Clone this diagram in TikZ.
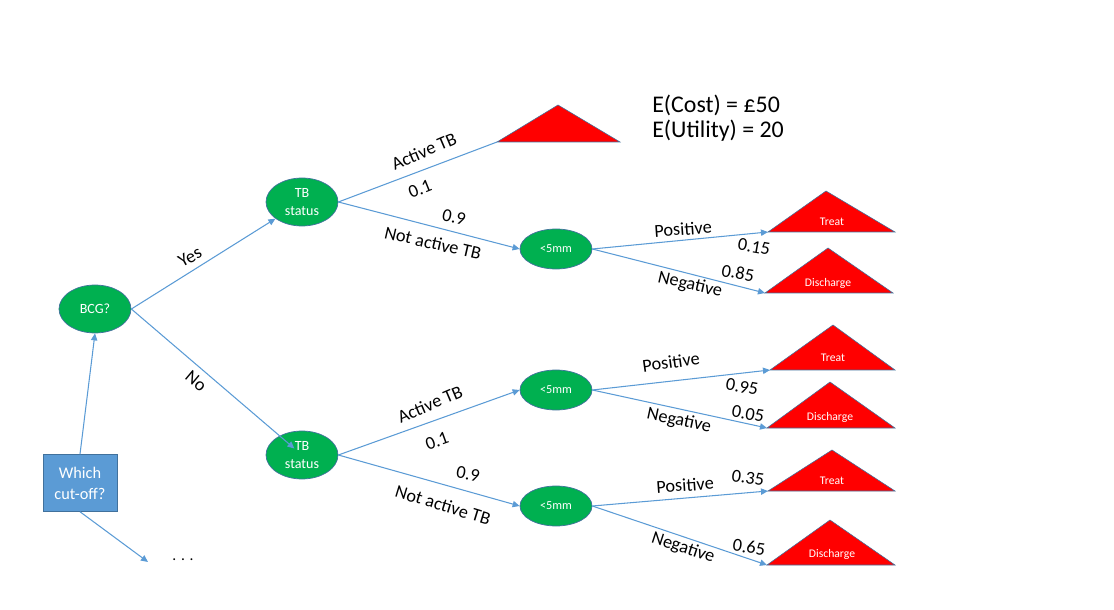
\documentclass[tikz,border=0pt]{standalone}
\usepackage{fontspec}
\setmainfont{Carlito}
\usetikzlibrary{arrows.meta, shapes.geometric}

\definecolor{edgeblue}{HTML}{5B9BD5}
\definecolor{rimblue}{HTML}{41719C}
\definecolor{chancegreen}{HTML}{00B050}

\begin{document}
\begin{tikzpicture}[x=0.025cm, y=-0.025cm,
    chance/.style={ellipse, draw=rimblue, line width=0.5pt, fill=chancegreen, text=white,
        minimum width=1.8cm, minimum height=1.2cm, inner sep=0pt, align=center,
        font=\fontsize{10}{12.5}\selectfont},
    test/.style={chance, minimum height=1cm, font=\fontsize{8.7}{10}\selectfont},
    choice/.style={rectangle, draw=rimblue, line width=0.5pt, fill=edgeblue, text=white,
        minimum width=1.85cm, minimum height=1.42cm, inner sep=0pt, align=center,
        font=\fontsize{11.6}{15}\selectfont},
    outcome/.style={draw=rimblue, line width=0.4pt, fill=red},
    leaf/.style={text=white, inner sep=0pt, font=\fontsize{8.3}{10}\selectfont},
    edge/.style={draw=edgeblue, line width=0.75pt},
    arr/.style={edge, -{Triangle[length=5pt, width=4.5pt]}},
    lbl/.style={inner sep=0pt, font=\fontsize{13}{15}\selectfont}]

    \useasboundingbox (0,0) rectangle (1114,610);

    % Decision and chance nodes
    \node[choice] (which) at (80,483) {Which\\cut-off?};
    \node[chance] (bcg) at (95,309) {BCG?};
    \node[chance] (tb1) at (302,202) {TB\\status};
    \node[chance] (tb2) at (302,455) {TB\\status};
    \node[test] (s1) at (556,249) {<5mm};
    \node[test] (s2) at (556,390) {<5mm};
    \node[test] (s3) at (556,506) {<5mm};

    % Outcome triangles
    \filldraw[outcome] (497,142) coordinate (t0) -- (620,142) -- (558,105) -- cycle;
    \filldraw[outcome] (768,232) coordinate (t1) -- (895,232) -- (826,191) -- cycle;
    \node[leaf] (t1-txt) at (832,222) {Treat};
    \filldraw[outcome] (765,293) coordinate (t2) -- (893,293) -- (828,248) -- cycle;
    \node[leaf] (t2-txt) at (828,283) {Discharge};
    \filldraw[outcome] (770,370) coordinate (t3) -- (895,370) -- (833,325) -- cycle;
    \node[leaf] (t3-txt) at (833,358) {Treat};
    \filldraw[outcome] (767,428) coordinate (t4) -- (895,428) -- (830,382) -- cycle;
    \node[leaf] (t4-txt) at (830,417) {Discharge};
    \filldraw[outcome] (768,491) coordinate (t5) -- (895,491) -- (832,450) -- cycle;
    \node[leaf] (t5-txt) at (832,481) {Treat};
    \filldraw[outcome] (767,565) coordinate (t6) -- (895,565) -- (830,520) -- cycle;
    \node[leaf] (t6-txt) at (832,554) {Discharge};

    % Expected values
    \node[anchor=west, inner sep=0pt, font=\fontsize{17}{20}\selectfont] (cost) at (652,105) {E(Cost) = £50};
    \node[anchor=west, inner sep=0pt, font=\fontsize{17}{20}\selectfont] (util) at (652,131) {E(Utility) = 20};

    % Connectors
    \coordinate (more) at (148,562);
    \node[inner sep=0pt, font=\fontsize{11}{12}\selectfont] (dots) at (183,560) {. . .};
    \draw[arr] (which.north) -- (bcg.south);
    \draw[arr] (which.south) -- (more);
    \draw[arr] (bcg.east) -- (tb1);
    \draw[arr, shorten >=0.25cm] (bcg.east) -- (tb2.center);
    \draw[edge] (tb1.east) -- (t0);
    \draw[arr] (tb1.east) -- (s1.west);
    \draw[arr] (tb2.east) -- (s2.west);
    \draw[arr] (tb2.east) -- (s3.west);
    \draw[arr] (s1.east) -- (t1);
    \draw[arr] (s1.east) -- (t2);
    \draw[arr] (s2.east) -- (t3);
    \draw[arr] (s2.east) -- (t4);
    \draw[arr] (s3.east) -- (t5);
    \draw[arr] (s3.east) -- (t6);

    % Branch labels
    \node[lbl, rotate=29] (yes) at (190,257) {Yes};
    \node[lbl, rotate=-40] (no) at (196,381) {No};
    \node[lbl, rotate=23] (act1) at (424,151) {Active TB};
    \node[lbl, rotate=22] (p1) at (420,189) {0.1};
    \node[lbl, rotate=-12] (p2) at (454,217) {0.9};
    \node[lbl, rotate=-13] (nact1) at (433,243) {Not active TB};
    \node[lbl, rotate=4] (pos1) at (683,229) {Positive};
    \node[lbl, rotate=-10] (p3) at (754,247) {0.15};
    \node[lbl, rotate=-10] (p4) at (738,273) {0.85};
    \node[lbl, rotate=-13] (neg1) at (690,285) {Negative};
    \node[lbl, rotate=23] (act2) at (430,404) {Active TB};
    \node[lbl, rotate=20] (p5) at (437,441) {0.1};
    \node[lbl, rotate=-10] (p6) at (468,474) {0.9};
    \node[lbl, rotate=-17] (nact2) at (443,505) {Not active TB};
    \node[lbl, rotate=8] (pos2) at (671,362) {Positive};
    \node[lbl, rotate=-10] (p7) at (742,387) {0.95};
    \node[lbl, rotate=-10] (p8) at (748,414) {0.05};
    \node[lbl, rotate=-12] (neg2) at (679,421) {Negative};
    \node[lbl, rotate=4] (pos3) at (685,485) {Positive};
    \node[lbl, rotate=-8] (p9) at (748,478) {0.35};
    \node[lbl, rotate=-18] (neg3) at (683,548) {Negative};
    \node[lbl, rotate=-8] (p10) at (749,547) {0.65};
\end{tikzpicture}
\end{document}
